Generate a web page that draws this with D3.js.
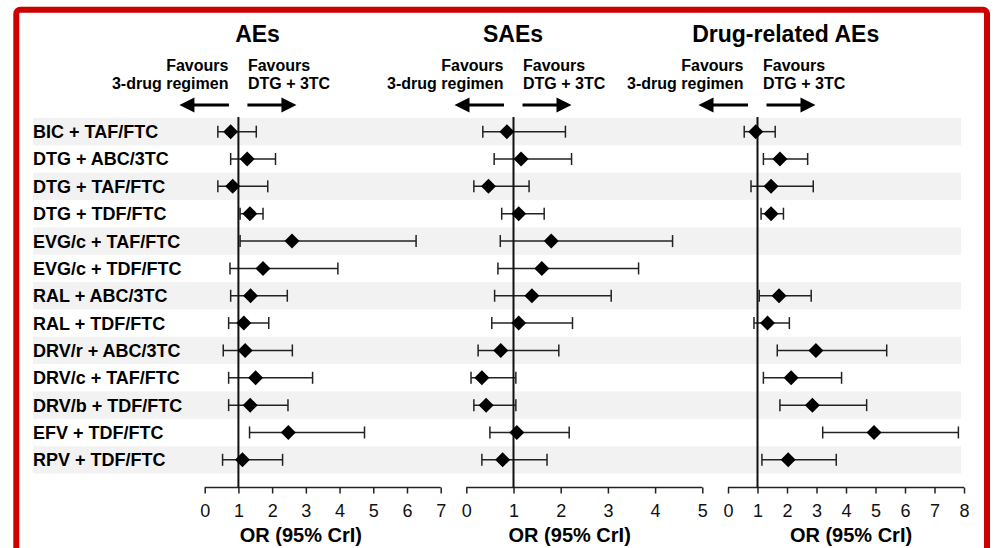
<!DOCTYPE html>
<html lang="en">
<head>
  <meta charset="UTF-8">
  <title>Safety outcomes vs DTG + 3TC</title>
  <style>
    body {
      margin: 0;
      background-color: #fff;
      font-family: "Liberation Sans", Arial, sans-serif;
    }
    .row-label { font-weight: bold; font-size: 18px; }
    .title { font-weight: bold; font-size: 23px; }
    .favours { font-weight: bold; font-size: 16px; }
    .axis-label { font-weight: bold; font-size: 20px; }
  </style>
</head>
<body>
  <svg id="chart" width="1003" height="548"></svg>
  <script src="https://d3js.org/d3.v7.min.js"></script>
  <script>
    const regimens = [
      'BIC + TAF/FTC', 'DTG + ABC/3TC', 'DTG + TAF/FTC', 'DTG + TDF/FTC',
      'EVG/c + TAF/FTC', 'EVG/c + TDF/FTC', 'RAL + ABC/3TC', 'RAL + TDF/FTC',
      'DRV/r + ABC/3TC', 'DRV/c + TAF/FTC', 'DRV/b + TDF/FTC', 'EFV + TDF/FTC',
      'RPV + TDF/FTC'
    ];

    const panelTitles = ['AEs', 'SAEs', 'Drug-related AEs'];
    const axisMax = [7, 5, 8];

    // AEs
    const aeOR = [0.77, 1.26, 0.83, 1.34, 2.59, 1.73, 1.36, 1.16, 1.20, 1.51, 1.35, 2.48, 1.12];
    const aeLo = [0.39, 0.77, 0.39, 1.05, 1.05, 0.75, 0.77, 0.71, 0.55, 0.71, 0.71, 1.33, 0.53];
    const aeHi = [1.53, 2.10, 1.87, 1.73, 6.27, 3.95, 2.45, 1.90, 2.60, 3.20, 2.47, 4.74, 2.31];

    // SAEs
    const saeOR = [0.86, 1.16, 0.47, 1.11, 1.80, 1.60, 1.39, 1.11, 0.73, 0.33, 0.42, 1.07, 0.77];
    const saeLo = [0.35, 0.59, 0.16, 0.75, 0.72, 0.67, 0.60, 0.54, 0.25, 0.10, 0.16, 0.50, 0.33];
    const saeHi = [2.10, 2.23, 1.33, 1.65, 4.37, 3.65, 3.07, 2.25, 1.96, 1.05, 1.05, 2.18, 1.71];

    // Drug-related AEs (no estimate for the EVG/c regimens)
    const drOR = [0.94, 1.76, 1.46, 1.46, null, null, 1.73, 1.34, 2.98, 2.14, 2.86, 4.95, 2.04];
    const drLo = [0.55, 1.20, 0.78, 1.12, null, null, 1.06, 0.88, 1.67, 1.20, 1.76, 3.21, 1.15];
    const drHi = [1.60, 2.70, 2.89, 1.88, null, null, 2.82, 2.08, 5.38, 3.85, 4.70, 7.81, 3.67];

    const series = [
      { or: aeOR, lo: aeLo, hi: aeHi },
      { or: saeOR, lo: saeLo, hi: saeHi },
      { or: drOR, lo: drLo, hi: drHi }
    ];

    // layout per panel
    const panelRange = [[204.7, 440.7], [466.3, 702.3], [728, 964]];
    const titleX = [257.5, 513, 785.7];
    const axisLabelX = [300.8, 569.7, 851];
    const favShift = [0, 0, -4];

    const svg = d3.select('#chart');
    const bandTop = 118, bandBottom = 473.5, axisY = 487.5;

    const y = d3.scaleBand()
      .domain(regimens)
      .range([bandTop, bandBottom]);

    // red frame
    svg.append('rect')
      .attr('x', 16.3)
      .attr('y', 9.7)
      .attr('width', 970.7)
      .attr('height', 580)
      .attr('rx', 4)
      .attr('fill', 'none')
      .attr('stroke', '#cc0000')
      .attr('stroke-width', 6);

    // row shading
    svg.selectAll('.band')
      .data(regimens.filter((d, i) => i % 2 === 0))
      .enter()
      .append('rect')
      .attr('class', 'band')
      .attr('x', 33)
      .attr('y', d => y(d))
      .attr('width', 928)
      .attr('height', y.bandwidth())
      .attr('fill', '#f2f2f2');

    svg.selectAll('.row-label')
      .data(regimens)
      .enter()
      .append('text')
      .attr('class', 'row-label')
      .attr('x', 33)
      .attr('y', d => y(d) + y.bandwidth() / 2)
      .attr('dy', '0.36em')
      .text(d => d);

    const arrowHead = (g, x, yy, dir) => {
      g.append('path')
        .attr('d', `M${x},${yy} l${-15 * dir},-7.5 l0,15 z`)
        .attr('fill', '#000');
    };

    panelTitles.forEach((title, p) => {
      const x = d3.scaleLinear()
        .domain([0, axisMax[p]])
        .range(panelRange[p]);
      const g = svg.append('g');
      const x1 = x(1);
      const fx = x1 + favShift[p];

      g.append('text')
        .attr('class', 'title')
        .attr('x', titleX[p])
        .attr('y', 42)
        .attr('text-anchor', 'middle')
        .text(title);

      const left = g.append('text')
        .attr('class', 'favours')
        .attr('text-anchor', 'end');
      left.append('tspan').attr('x', fx - 10).attr('y', 70.7).text('Favours');
      left.append('tspan').attr('x', fx - 10).attr('y', 89.3).text('3-drug regimen');

      const right = g.append('text')
        .attr('class', 'favours')
        .attr('text-anchor', 'start');
      right.append('tspan').attr('x', fx + 9.5).attr('y', 70.7).text('Favours');
      right.append('tspan').attr('x', fx + 9.5).attr('y', 89.3).text('DTG + 3TC');

      // arrows
      g.append('line')
        .attr('x1', x1 - 9.5).attr('x2', x1 - 50)
        .attr('y1', 105).attr('y2', 105)
        .attr('stroke', '#000').attr('stroke-width', 3);
      arrowHead(g, x1 - 59, 105, -1);
      g.append('line')
        .attr('x1', x1 + 9).attr('x2', x1 + 50)
        .attr('y1', 105).attr('y2', 105)
        .attr('stroke', '#000').attr('stroke-width', 3);
      arrowHead(g, x1 + 58, 105, 1);

      // axis
      const axis = g.append('g')
        .attr('transform', `translate(0, ${axisY})`)
        .call(d3.axisBottom(x).ticks(axisMax[p]).tickSize(6).tickSizeOuter(6).tickPadding(11));
      axis.select('.domain').attr('stroke', '#222').attr('stroke-width', 1.5)
        .attr('d', `M${panelRange[p][0]},0H${panelRange[p][1]}`);
      axis.selectAll('.tick line').attr('stroke', '#222').attr('stroke-width', 1.5);
      axis.attr('font-family', '"Liberation Sans", Arial, sans-serif')
        .attr('font-size', 18);
      axis.selectAll('.tick text').attr('fill', '#111');

      g.append('text')
        .attr('class', 'axis-label')
        .attr('x', axisLabelX[p])
        .attr('y', 541.7)
        .attr('text-anchor', 'middle')
        .text('OR (95% CrI)');

      const s = series[p];
      const rows = regimens.map((r, i) => ({ r, or: s.or[i], lo: s.lo[i], hi: s.hi[i] }))
        .filter(d => d.or !== null);
      const cy = d => y(d.r) + y.bandwidth() / 2;

      g.selectAll('.ci')
        .data(rows)
        .enter()
        .append('line')
        .attr('x1', d => x(d.lo)).attr('x2', d => x(d.hi))
        .attr('y1', cy).attr('y2', cy)
        .attr('stroke', '#222').attr('stroke-width', 1.5);

      ['lo', 'hi'].forEach(k => {
        g.selectAll('.cap-' + k)
          .data(rows)
          .enter()
          .append('line')
          .attr('x1', d => x(d[k])).attr('x2', d => x(d[k]))
          .attr('y1', d => cy(d) - 6).attr('y2', d => cy(d) + 6)
          .attr('stroke', '#222').attr('stroke-width', 1.5);
      });

      // reference line at OR = 1
      g.append('line')
        .attr('x1', x1).attr('x2', x1)
        .attr('y1', 117).attr('y2', axisY)
        .attr('stroke', '#111').attr('stroke-width', 2);

      g.selectAll('.pt')
        .data(rows)
        .enter()
        .append('path')
        .attr('d', d => `M${x(d.or)},${cy(d) - 7.5} l7.5,7.5 l-7.5,7.5 l-7.5,-7.5 z`)
        .attr('fill', '#000');
    });
  </script>
</body>
</html>
